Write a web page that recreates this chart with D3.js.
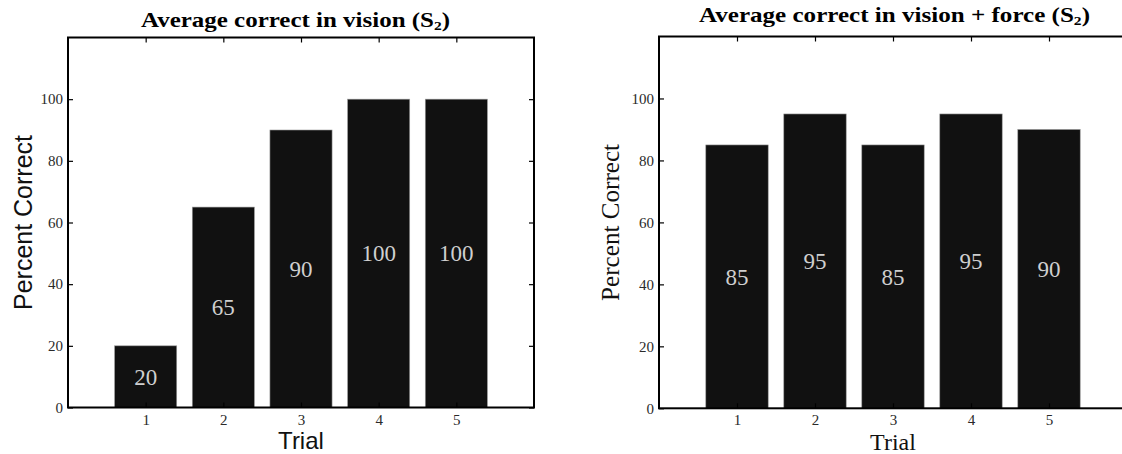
<!DOCTYPE html>
<html>
<head>
<meta charset="utf-8">
<script src="https://cdn.jsdelivr.net/npm/d3@7/dist/d3.min.js"></script>
<style>
  html, body { margin: 0; padding: 0; background: #fff; }
  svg { display: block; }
</style>
</head>
<body>
<svg id="chart" width="1122" height="454"></svg>
<script>
// ---- data ----
const trials = [1, 2, 3, 4, 5];
const visionValues = [20, 65, 90, 100, 100];
const visionForceValues = [85, 95, 85, 95, 90];
const yTickValues = [0, 20, 40, 60, 80, 100];
const titleMain = ["Average correct in vision (S", "Average correct in vision + force (S"];
const titleSub = "2";
const yAxisTitle = "Percent Correct";
const xAxisTitle = "Trial";

const svg = d3.select("#chart");

const panels = [
  { values: visionValues, title: titleMain[0], x0: 68, x1: 534, yTop: 37.5, yBot: 407.5,
    titleX: 295.5, titleY: 27, titleLen: 309,
    labelFont: "'Liberation Sans', Arial, sans-serif", yLabX: 32, yLabLen: 175, xLabY: 449 },
  { values: visionForceValues, title: titleMain[1], x0: 659, x1: 1127, yTop: 36.5, yBot: 408.3,
    titleX: 894.5, titleY: 22, titleLen: 391,
    labelFont: "'Liberation Serif', 'Times New Roman', serif", yLabX: 619, yLabLen: 157, xLabY: 450 }
];

const serif = "'Liberation Serif', 'Times New Roman', serif";

panels.forEach(p => {
  const x = d3.scaleLinear().domain([0, 6]).range([p.x0, p.x1]);
  const y = d3.scaleLinear().domain([0, 120]).range([p.yBot, p.yTop]);
  const g = svg.append("g");
  const bw = x(0.8) - x(0);

  // bars
  g.selectAll("rect.bar").data(p.values).enter().append("rect")
    .attr("class", "bar")
    .attr("x", (d, i) => x(trials[i]) - bw / 2)
    .attr("width", bw)
    .attr("y", d => y(d))
    .attr("height", d => y(0) - y(d))
    .attr("fill", "#111")
    .attr("stroke", "#9a9a9a")
    .attr("stroke-width", 0.6);

  // value labels
  g.selectAll("text.val").data(p.values).enter().append("text")
    .attr("class", "val")
    .attr("x", (d, i) => x(trials[i]))
    .attr("y", d => y(d / 2))
    .attr("dy", "0.35em")
    .attr("text-anchor", "middle")
    .attr("font-family", serif)
    .attr("font-size", 23)
    .attr("fill", "#cfcfcf")
    .text(d => d);

  // axes (inward ticks)
  const fontStyle = sel => sel.selectAll("text")
    .attr("font-family", serif).attr("font-size", 15).attr("fill", "#2a2a2a");

  const bottom = g.append("g").attr("transform", `translate(0,${p.yBot})`)
    .call(d3.axisBottom(x).tickValues(trials).tickFormat(d3.format("d"))
      .tickSize(-5).tickSizeOuter(0).tickPadding(6.5));
  fontStyle(bottom);
  const top = g.append("g").attr("transform", `translate(0,${p.yTop})`)
    .call(d3.axisTop(x).tickValues(trials).tickSize(-5).tickSizeOuter(0).tickFormat(""));
  const left = g.append("g").attr("transform", `translate(${p.x0},0)`)
    .call(d3.axisLeft(y).tickValues(yTickValues).tickFormat(d3.format("d"))
      .tickSize(-5).tickSizeOuter(0).tickPadding(5));
  fontStyle(left);
  const right = g.append("g").attr("transform", `translate(${p.x1},0)`)
    .call(d3.axisRight(y).tickValues(yTickValues).tickSize(-5).tickSizeOuter(0).tickFormat(""));

  [bottom, top, left, right].forEach(a => {
    a.select(".domain").remove();
    a.selectAll(".tick line").attr("stroke", "#000").attr("stroke-width", 1.2);
  });

  // frame
  g.append("rect")
    .attr("x", p.x0).attr("y", p.yTop)
    .attr("width", p.x1 - p.x0).attr("height", p.yBot - p.yTop)
    .attr("fill", "none").attr("stroke", "#000").attr("stroke-width", 2);

  // title
  const t = g.append("text")
    .attr("x", p.titleX).attr("y", p.titleY)
    .attr("text-anchor", "middle")
    .attr("font-family", serif).attr("font-weight", "bold").attr("font-size", 21)
    .attr("textLength", p.titleLen).attr("lengthAdjust", "spacingAndGlyphs")
    .attr("fill", "#000");
  t.append("tspan").text(p.title);
  t.append("tspan").attr("font-size", 13).attr("dy", 3).text(titleSub);
  t.append("tspan").attr("dy", -3).text(")");

  // y axis title
  g.append("text")
    .attr("transform", `translate(${p.yLabX},${(p.yTop + p.yBot) / 2}) rotate(-90)`)
    .attr("text-anchor", "middle")
    .attr("font-family", p.labelFont).attr("font-size", 25)
    .attr("textLength", p.yLabLen).attr("lengthAdjust", "spacingAndGlyphs")
    .attr("fill", "#111")
    .text(yAxisTitle);

  // x axis title
  g.append("text")
    .attr("x", x(3)).attr("y", p.xLabY)
    .attr("text-anchor", "middle")
    .attr("font-family", p.labelFont).attr("font-size", 24)
    .attr("fill", "#111")
    .text(xAxisTitle);
});
</script>
</body>
</html>
